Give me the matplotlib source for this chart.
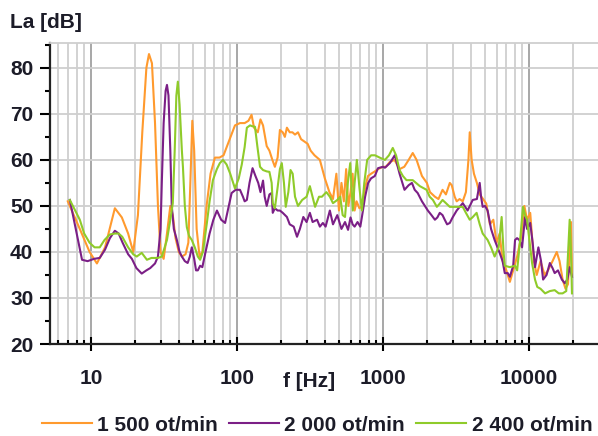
import matplotlib
matplotlib.use("Agg")
import matplotlib.pyplot as plt
from matplotlib.ticker import FixedLocator, NullFormatter, LogLocator

# ---- data ----
f_1500 = [6.95, 8.4, 9.8, 11.0, 12.5, 14.6, 16.3, 18.0, 19.5, 21.0, 22.5, 24.0, 25.0, 26.2, 27.5, 28.8,
          30.0, 31.5, 33.2, 35.0, 36.4, 38.0, 40.0, 42.0, 44.5, 46.5, 48.0, 49.5, 51.0, 53.0, 55.5, 58.0,
          62.0, 66.0, 70.7, 76.0, 81.0, 88.0, 97.0, 105, 113, 120, 126, 131, 139, 145, 151, 160, 167, 175,
          182, 190, 197, 206, 213, 220, 230, 240, 250, 262, 275, 290, 305, 320, 340, 370, 400, 430, 455,
          480, 500, 520, 540, 560, 580, 600, 620, 640, 660, 690, 720, 755, 790, 830, 880, 925, 1000, 1050,
          1110, 1200, 1300, 1400, 1500, 1600, 1700, 1850, 2000, 2100, 2270, 2400, 2560, 2700, 2870, 2960,
          3100, 3200, 3350, 3520, 3700, 3850, 3930, 4050, 4200, 4400, 4600, 4850, 5100, 5400, 5700, 6000,
          6300, 6600, 7000, 7400, 7800, 8300, 8800, 9300, 9700, 10200, 10800, 11300, 12000, 12800, 13500,
          14500, 15500, 16200, 17000, 17800, 18500, 19000, 19400, 19700]
la_1500 = [51, 45, 40, 37.5, 41, 49.5, 47.5, 44, 40, 48, 66, 80, 83, 81, 68, 50,
           40, 38.5, 44, 50, 48, 43, 40, 39, 39.5, 42, 55, 68.5, 62, 45, 39, 40,
           50, 57, 60.5, 60.5, 61, 64, 67.5, 68, 68, 68.5, 69.8, 67, 66, 68.8, 67.5, 63, 62, 60,
           58.5, 60.5, 66.5, 66, 65, 67, 66, 66, 65.5, 66, 64.5, 64, 63.5, 62, 61, 60, 56, 53, 51.5,
           57, 49, 55, 51, 58, 50, 53, 57, 49, 51, 49.5, 50, 54, 56.5, 57, 57.5, 58, 58.5, 58.5,
           59.5, 60, 58, 58.5, 60, 61.5, 60, 56.5, 55, 53, 52, 51.5, 53.5, 52.5, 55, 54.5,
           52, 51, 51.5, 51, 53, 60, 66, 60, 57, 55, 52.5, 51.5, 50.5, 46, 47, 42,
           44, 38, 36, 33.5, 36, 39, 43, 50, 47, 48.5, 38, 35, 38, 35, 36,
           38, 40, 38, 34, 32, 33, 40, 46.5, 35]

f_2000 = [7.18, 8.0, 8.7, 9.5, 10.5, 11.5, 12.5, 13.5, 14.6, 15.5, 16.5, 18.0, 19.1, 20.5, 22.3, 24.0,
          25.5, 27.5, 28.8, 30.0, 30.6, 31.5, 32.5, 33.2, 34.0, 35.0, 35.8, 37.0, 38.8, 40.5, 42.0, 44.0,
          46.0, 47.6, 49.1, 51.0, 52.5, 54.0, 56.0, 58.0, 61.0, 65.0, 69.0, 73.0, 78.0, 83.0, 88.0, 92.0,
          98.0, 105, 110, 113, 117, 122, 128, 134, 140, 145, 151, 155, 160, 167, 173, 176, 182, 190, 197,
          206, 220, 230, 245, 258, 270, 285, 300, 316, 330, 354, 370, 388, 405, 433, 455, 487, 520, 550,
          577, 600, 620, 640, 670, 700, 718, 755, 792, 830, 880, 925, 1000, 1032, 1115, 1205, 1300, 1405,
          1500, 1580, 1650, 1730, 1850, 2030, 2150, 2270, 2360, 2450, 2560, 2650, 2750, 2870, 3000, 3200,
          3520, 3800, 4120, 4400, 4600, 4700, 4820, 5000, 5210, 5500, 5820, 6300, 6600, 6830, 7160, 7400,
          7800, 8030, 8290, 8600, 8970, 9400, 9700, 10200, 10600, 11000, 11600, 12100, 12500, 13200, 13900,
          14500, 15000, 15800, 16800, 17600, 18300, 19000, 19700]
la_2000 = [51.3, 44, 38.3, 38, 38.5, 38.7, 40.5, 43, 44.6, 44, 42, 39.5, 38.5, 36.5, 35.3, 36,
           36.5, 37.5, 39, 45, 55, 68, 75, 76.3, 74, 62, 50, 45, 42.6, 40, 39, 38,
           37.6, 39, 41, 38.5, 36, 36, 37, 36.7, 40, 44, 47, 49, 47, 46.3, 50, 52.8,
           53.5, 53.5, 52, 51, 51.3, 55, 58.2, 56.5, 55, 53, 55.5, 52, 50, 52.5, 52.8, 48.5, 49.5, 49, 49,
           48.5, 47.6, 46, 45.5, 43.3, 45, 47.6, 46.5, 48.5, 46.5, 47, 45.5, 46.3, 45.5, 49, 46, 48, 45, 46.5,
           44.8, 47.5, 46, 45.5, 46.5, 45.5, 47.6, 52, 55, 56, 56.5, 58.2, 58.5, 58.3, 59.3, 61, 57, 53.5,
           54.5, 55, 53.5, 52.8, 51, 49, 48, 47, 47.5, 48.5, 48, 47, 46, 46.3, 47.5, 49,
           50.6, 49, 51.3, 51.5, 55, 52, 49.8, 50, 49, 45, 42.6, 39.8, 38, 35.4, 35.4, 34.6,
           37, 42.6, 43, 42.6, 41, 47.6, 45, 46.3, 42, 36.7, 41, 38, 34, 35, 37.6,
           36.5, 35.4, 36, 34, 33.2, 34, 36.7, 34.6]

f_2400 = [7.18, 8.4, 9.0, 9.8, 10.6, 11.5, 12.4, 13.5, 14.6, 15.5, 16.4, 18.0, 19.5, 20.6, 22.3, 24.2,
          26.0, 28.8, 30.6, 33.2, 35.0, 36.4, 37.5, 38.5, 39.4, 40.5, 42.0, 42.7, 44.0, 45.4, 47.0, 49.1,
          51.5, 54.0, 56.0, 58.5, 62.3, 65.0, 68.5, 72.9, 76.4, 80.3, 85.0, 90.0, 97.0, 103, 108, 113, 117,
          123, 128, 133, 138, 144, 151, 160, 167, 173, 176, 182, 190, 197, 203, 210, 216, 225, 233, 241,
          250, 262, 280, 300, 316, 343, 365, 382, 410, 433, 455, 487, 510, 530, 550, 575, 597, 610, 622,
          640, 663, 690, 718, 745, 780, 830, 883, 950, 1032, 1100, 1168, 1230, 1300, 1370, 1450, 1600, 1790,
          1990, 2090, 2200, 2340, 2450, 2560, 2870, 3200, 3520, 3700, 3930, 4100, 4380, 4600, 4820, 5210,
          5500, 5820, 6200, 6500, 6700, 6830, 7400, 8030, 8300, 8700, 9100, 9400, 9700, 10200, 10500, 11000,
          11400, 12000, 12900, 13900, 15000, 16000, 17000, 18000, 19000, 19400, 19700]
la_2400 = [51.3, 47, 44, 42, 41, 41, 42.6, 43.8, 44, 44, 43.3, 41, 39.5, 39, 39.8, 38.3,
           38.7, 38.7, 39, 42.6, 47, 50.6, 62, 74, 77, 72, 62, 58.5, 50, 45.4, 43.5, 42.6,
           41, 39, 38.3, 40, 46.3, 51, 55.6, 58, 59.3, 60, 59, 57, 53.8, 56, 59, 62.8, 67,
           67.5, 67.3, 67.2, 63, 58.5, 57.8, 57.5, 57.4, 55, 50.6, 49.5, 54, 58, 59.3, 55, 49.8, 53, 57.8, 57,
           52, 50, 51.3, 52, 54.3, 49.8, 52, 52, 53, 52, 50.6, 51.3, 52, 48, 47.6, 55, 59.3, 54, 49,
           55, 60, 54, 49, 55, 60, 61, 61, 60.5, 60, 61, 62.6, 61, 57.8, 56.5, 55.6, 55.6, 54.3,
           53.5, 52, 51.3, 49.8, 50.5, 51.3, 49.8, 49.8, 49.8, 48.5, 47, 47.5, 48.5, 46, 44, 42.6,
           41, 39, 41, 47.6, 40, 37, 36.7, 37, 36, 42.6, 49.8, 48, 47, 41, 37.6, 34,
           32.4, 32, 31, 31.5, 31.7, 31, 31, 31.5, 47, 40, 31]

series = [
    (f_1500, la_1500, "1 500 ot/min", "#ff9a2e"),
    (f_2000, la_2000, "2 000 ot/min", "#7b1f86"),
    (f_2400, la_2400, "2 400 ot/min", "#8fcb2a"),
]

y_ticks = [20, 30, 40, 50, 60, 70, 80]
x_ticks = [10, 100, 1000, 10000]
x_ticklabels = ["10", "100", "1000", "10000"]

# ---- figure ----
plt.rcParams['font.family'] = ['Liberation Sans', 'DejaVu Sans']
txt = "#1c1c28"
fs = 15
fig = plt.figure(figsize=(5.98, 4.36), dpi=100)
ax = fig.add_axes([50/598, 1-344/436, 1-50/598, (344-43)/436])

for f, la, lab, c in series:
    ax.plot(f, la, color=c, lw=1.5, label=lab, zorder=3)

ax.set_xscale("log")
ax.set_xlim(5.25, 29700)
ax.set_ylim(20, 85.4)

ax.xaxis.set_major_locator(FixedLocator(x_ticks))
ax.set_xticklabels(x_ticklabels)
ax.xaxis.set_minor_locator(LogLocator(base=10, subs=range(2, 10), numticks=20))
ax.xaxis.set_minor_formatter(NullFormatter())
ax.set_yticks(y_ticks)
ax.yaxis.set_minor_locator(FixedLocator([25, 35, 45, 55, 65, 75, 85]))

ax.grid(True, which="major", axis="x", color="#a0a0a0", lw=1.3)
ax.grid(True, which="minor", axis="x", color="#cfcfcf", lw=1.3)
ax.grid(True, which="major", axis="y", color="#cfcfcf", lw=1.3)
ax.set_axisbelow(True)

ax.spines["right"].set_visible(False)
ax.spines["top"].set_color("#cfcfcf")
ax.spines["top"].set_linewidth(1.3)
ax.spines["left"].set_linewidth(1.6)
ax.spines["bottom"].set_linewidth(1.6)
ax.spines["left"].set_color("#222")
ax.spines["bottom"].set_color("#222")

ax.tick_params(axis="y", which="major", direction="out", length=7, width=1.5, pad=5,
               labelsize=fs, labelcolor=txt)
ax.tick_params(axis="y", which="minor", direction="out", length=3.5, width=1.5)
ax.tick_params(axis="x", which="major", direction="inout", length=10, width=1.5, pad=13,
               labelsize=fs, labelcolor=txt)
ax.tick_params(axis="x", which="minor", direction="in", length=3, width=1.5)
for t in ax.get_xticklabels() + ax.get_yticklabels():
    t.set_fontweight("bold")

fig.text(10/598, 1-22/436, "La [dB]", fontsize=fs, fontweight="bold", color=txt,
         ha="left", va="center")
fig.text(309/598, 1-381/436, "f [Hz]", fontsize=fs, fontweight="bold", color=txt,
         ha="center", va="center")

leg = fig.legend(loc="center", bbox_to_anchor=(317/598, 1-425/436), ncol=3, frameon=False,
                 handlelength=2.4, handletextpad=0.25, columnspacing=0.55,
                 borderpad=0.2, prop={"size": fs, "weight": "bold"})
for t in leg.get_texts():
    t.set_color(txt)

fig.savefig("out.png", dpi=100)
